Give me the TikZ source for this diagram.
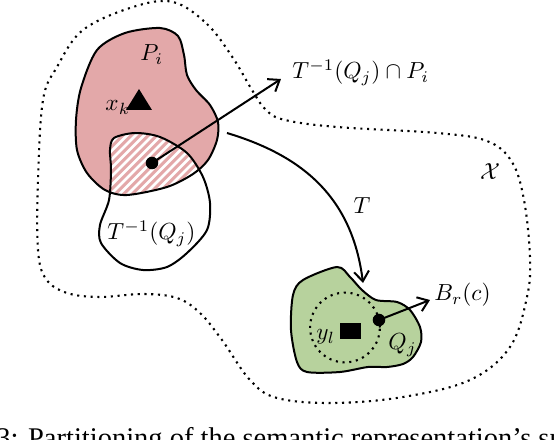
\documentclass[tikz,border=0pt]{standalone}
\usepackage{fontspec}
\newfontfamily\capfont{Liberation Serif}
\usetikzlibrary{arrows.meta}
\definecolor{pinkfill}{RGB}{227,168,169}
\definecolor{greenfill}{RGB}{183,210,157}
\tikzset{
  region/.style={draw=black, line width=0.86pt},
  dotline/.style={line width=0.9pt, dash pattern=on 0.9pt off 2pt},
  conn/.style={line width=0.86pt, -{Straight Barb[length=4.3pt,width=6.4pt]}},
  lbl/.style={inner sep=0pt, anchor=base west},
  bigdot/.style={circle, fill=black, inner sep=0pt, minimum size=5.4pt},
  stripe/.style={white, line width=1.2pt}
}
\begin{document}
\begin{tikzpicture}[x=0.43pt, y=-0.43pt]
\useasboundingbox (0,0) rectangle (554,440);
% outer space X
\draw[dotline] plot[smooth cycle, tension=0.6] coordinates {
 (173,2) (207,24) (233,58) (252,90) (266,110) (285,120) (337,127) (437,133)
 (487,141) (512,162) (524,200) (530,257) (527,297) (510,347) (470,380)
 (403,397) (333,403) (277,398) (250,380) (222,340) (200,313) (177,298)
 (143,294) (100,297) (67,293) (46,279) (38,250) (38,180) (43,100) (57,67)
 (83,30) (133,7)};
\node[inner sep=0pt] (lblX) at (490,172) {$\mathcal{X}$};
% P_i
\fill[pinkfill] plot[smooth cycle] coordinates {
 (97,50) (125,33) (160,28) (178,36) (184,55) (187,75) (196,90) (210,105)
 (218,122) (217,140) (208,160) (193,174) (167,187) (127,195) (105,190)
 (87,173) (77,150) (76,120) (81,88)};
% hatched intersection
\begin{scope}
\clip plot[smooth cycle] coordinates {
 (97,50) (125,33) (160,28) (178,36) (184,55) (187,75) (196,90) (210,105)
 (218,122) (217,140) (208,160) (193,174) (167,187) (127,195) (105,190)
 (87,173) (77,150) (76,120) (81,88)};
\clip plot[smooth cycle] coordinates {
 (114,138) (135,133) (160,137) (187,153) (203,177) (210,203) (207,230)
 (187,253) (167,267) (143,270) (120,263) (101,243) (100,225) (109,200)
 (111,170) (110,150)};
\foreach \a in {120,128.5,...,330} \draw[stripe] (\a-150,250) -- (\a,100);
\end{scope}
\draw[region] plot[smooth cycle] coordinates {
 (97,50) (125,33) (160,28) (178,36) (184,55) (187,75) (196,90) (210,105)
 (218,122) (217,140) (208,160) (193,174) (167,187) (127,195) (105,190)
 (87,173) (77,150) (76,120) (81,88)};
% T^{-1}(Q_j)
\draw[region] plot[smooth cycle] coordinates {
 (114,138) (135,133) (160,137) (187,153) (203,177) (210,203) (207,230)
 (187,253) (167,267) (143,270) (120,263) (101,243) (100,225) (109,200)
 (111,170) (110,150)};
\node[lbl] (lblP) at (140,61) {$P_i$};
\node[lbl] (lblxk) at (105,111) {$x_k$};
\fill (139,89) -- (152,110) -- (126,110) -- cycle;
\node[lbl] (lblTinv) at (107,240) {$T^{-1}(Q_j)$};
\node[bigdot] (dotA) at (152,163) {};
\coordinate (tipA) at (281,79);
\draw[conn] (dotA.center) -- (tipA);
\node[lbl] (lblInt) at (292,79) {$T^{-1}(Q_j)\cap P_i$};
% map T
\coordinate (tStart) at (227,133);
\coordinate (tEnd) at (363,283);
\draw[conn] (tStart) .. controls (300,155) and (352,195) .. (tEnd);
\node[inner sep=0pt] (lblT) at (362,206) {$T$};
% Q_j
\draw[region, fill=greenfill] plot[smooth cycle] coordinates {
 (303,280) (337,267) (350,277) (362,290) (376,300) (397,302) (410,310)
 (420,327) (421,342) (413,357) (403,364) (387,367) (368,367) (340,372)
 (307,372) (297,362) (291,330) (293,295)};
\draw[dotline] (345,327.5) circle (15pt);
\fill (340,323) rectangle (361,339);
\node[lbl] (lblyl) at (316,340) {$y_l$};
\node[lbl] (lblQ) at (388,350) {$Q_j$};
\node[bigdot] (dotC) at (379,320) {};
\coordinate (tipC) at (430,300);
\draw[conn] (dotC.center) -- (tipC);
\node[lbl] (lblB) at (434,301) {$B_r(c)$};
% caption (cut off by the frame, as in the reference)
\begin{scope}
\clip (0,0) rectangle (554,440);
\node[lbl] (caption) at (-4,448) {\capfont\fontsize{12.25}{14}\selectfont 3: Partitioning of the semantic representation’s sp};
\end{scope}
\end{tikzpicture}
\end{document}
